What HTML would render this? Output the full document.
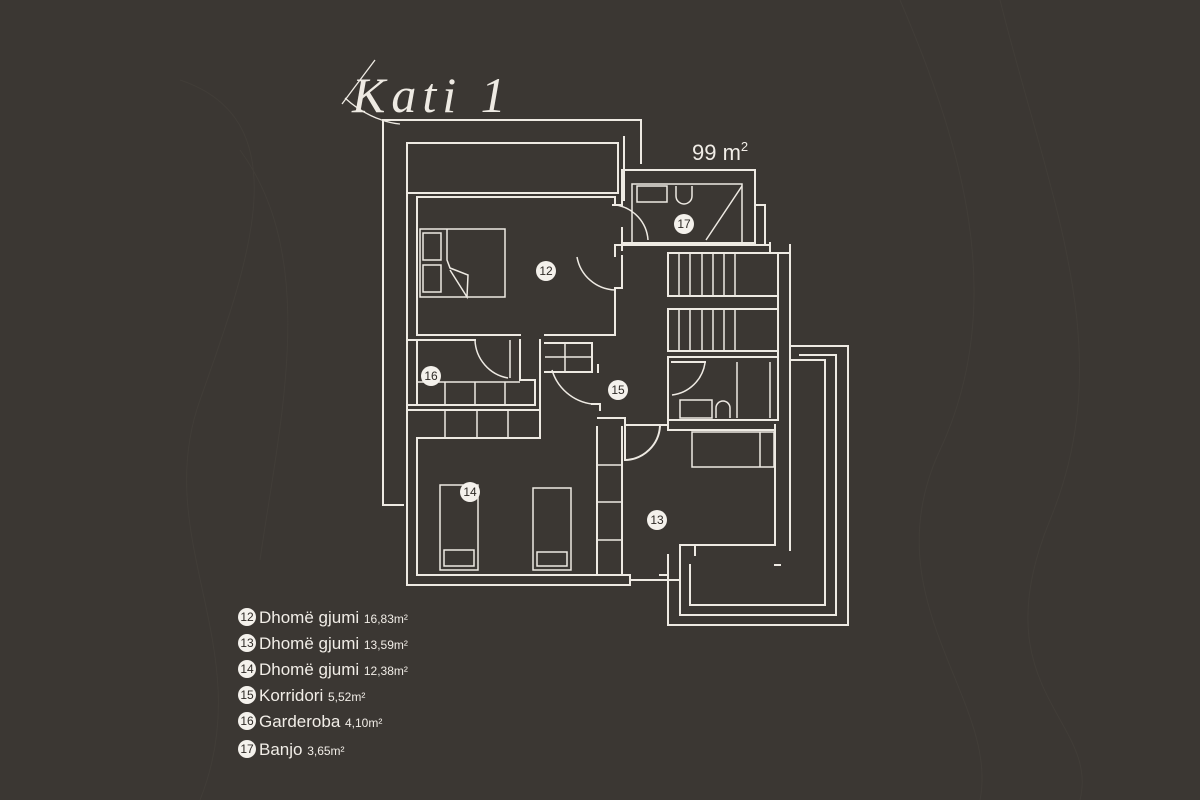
<!DOCTYPE html>
<html><head><meta charset="utf-8"><style>
html,body{margin:0;padding:0;background:#3b3733;}
body{width:1200px;height:800px;overflow:hidden;}
svg{display:block}
.w{fill:none;stroke:#eeeae3;stroke-width:2;stroke-linecap:square}
.t{fill:none;stroke:#eeeae3;stroke-width:1.5}
.c{fill:#f4f1ec}
.n{font-family:"Liberation Sans",sans-serif;font-size:12px;fill:#2e2a26;text-anchor:middle}
.L{font-family:"Liberation Sans",sans-serif;fill:#f1ede7}
</style></head><body>
<svg width="1200" height="800" viewBox="0 0 1200 800">
<g fill="none" stroke="#413d38" stroke-width="1">
<path d="M180 80 C300 120 250 260 200 400 S260 650 200 800"/>
<path d="M900 0 C960 140 1010 300 940 450 S1000 700 980 800"/>
<path d="M1000 0 C1050 200 1120 350 1050 520 S1100 720 1080 800"/>
<path d="M240 150 C320 260 280 420 260 560"/>
</g>
<!-- title -->
<path d="M342 104 L375 60 M345 98 C360 112 380 122 400 124" fill="none" stroke="#eeeae3" stroke-width="1.3"/>
<text x="352" y="112" font-family="Liberation Serif,serif" font-style="italic" font-size="50" fill="#eeeae3" style="letter-spacing:6px">Kati 1</text>
<text x="692" y="160" class="L" font-size="22">99 m<tspan font-size="13" dy="-9">2</tspan></text>
<!-- outer frame -->
<path class="w" d="M383 505 V120 H641 V163 M383 505 H403"/>
<rect class="w" x="407" y="143" width="211" height="50"/>
<path class="w" d="M624 137 V200"/>
<!-- bath 17 -->
<path class="w" d="M622 170 H755 V243 H622 V228 M622 170 V205 H613 M755 205 H765 V243 M622 243 V250"/>
<rect class="t" x="632" y="184" width="110" height="59"/>
<rect class="t" x="637" y="186" width="30" height="16"/>
<path class="t" d="M676 186 v10 a8 8 0 0 0 16 0 v-10 M742 186 L706 240"/>
<path class="t" d="M616 205 A38 38 0 0 1 648 240"/>
<!-- room 12 -->
<path class="w" d="M407 193 V410 M417 197 H615 V205 M417 197 V335 H520 M545 335 H615 V288 H622 V256 M615 256 V245 H770"/>
<rect class="t" x="420" y="229" width="85" height="68"/>
<rect class="t" x="423" y="233" width="18" height="27"/>
<rect class="t" x="423" y="265" width="18" height="27"/>
<path class="t" d="M447 229 V260 L450 268 L468 275 L467 297 L450 270"/>
<path class="t" d="M577 257 A40 40 0 0 0 615 290"/>
<!-- stairs -->
<path class="w" d="M770 243 V253 H790 M668 253 H778 M668 296 H778 M668 309 H778 M668 351 H778 M668 253 V296 M668 309 V351"/>
<path class="t" d="M679 253 V296 M690 253 V296 M702 253 V296 M713 253 V296 M724 253 V296 M735 253 V296 M679 309 V351 M690 309 V351 M702 309 V351 M713 309 V351 M724 309 V351 M735 309 V351"/>
<path class="w" d="M778 253 V420 M790 245 V550 M780 565 H775"/>
<!-- terrace -->
<path class="w" d="M790 346 H848 V625 H668 V555 M800 355 H836 V615 H680 V560 M790 360 H825 V605 H690 V565"/>
<!-- wardrobe 16 -->
<path class="w" d="M407 340 H417 V405 M417 340 H475 M520 340 V380 H535 V405 H407 M407 410 H540 V438 H417"/>
<path class="t" d="M445 382 V405 M475 382 V405 M505 382 V405 M445 410 V438 M477 410 V438 M508 410 V438 M417 382 H520 M510 340 V378"/>
<path class="t" d="M475 340 A40 40 0 0 0 508 378"/>
<!-- corridor 15 -->
<path class="w" d="M540 340 V438 M545 343 H592 M592 343 V372 H545 M598 372 V365 M550 372 H592"/>
<path class="t" d="M545 357 H592 M565 343 V372"/>
<path class="t" d="M552 370 A48 48 0 0 0 592 404"/>
<path class="w" d="M592 404 H600 V410 M598 418 H625 V432 M625 425 V460"/>
<!-- small bath -->
<path class="w" d="M668 357 H778 M668 357 V420 H778 M668 420 V425 M672 362 H705"/>
<path class="t" d="M705 363 A38 38 0 0 1 672 395 M737 362 V418 M770 362 V418"/>
<rect class="t" x="680" y="400" width="32" height="18"/>
<path class="t" d="M716 418 v-10 a7 7 0 0 1 14 0 v10"/>
<!-- room 13 -->
<path class="w" d="M625 425 H668 M668 420 V430 H775 M625 460 A36 36 0 0 0 660 426"/>
<rect class="t" x="692" y="432" width="82" height="35"/>
<path class="t" d="M760 432 V467"/>
<path class="w" d="M775 425 V545 H695 V555 M695 545 H680 V580 H668"/>
<!-- wardrobe column -->
<path class="w" d="M597 427 V575 M622 427 V575"/>
<path class="t" d="M597 465 H622 M597 502 H622 M597 540 H622"/>
<!-- room 14 -->
<path class="w" d="M417 438 V575 H630 M407 410 V585 H630 M630 575 V585 M660 575 H668 V585 M630 580 H668"/>
<rect class="t" x="440" y="485" width="38" height="85"/>
<rect class="t" x="444" y="550" width="30" height="16"/>
<rect class="t" x="533" y="488" width="38" height="82"/>
<rect class="t" x="537" y="552" width="30" height="14"/>
<!-- labels -->
<circle class="c" cx="546" cy="271" r="10"/><text class="n" x="546" y="275">12</text>
<circle class="c" cx="684" cy="224" r="10"/><text class="n" x="684" y="228">17</text>
<circle class="c" cx="431" cy="376" r="10"/><text class="n" x="431" y="380">16</text>
<circle class="c" cx="618" cy="390" r="10"/><text class="n" x="618" y="394">15</text>
<circle class="c" cx="470" cy="492" r="10"/><text class="n" x="470" y="496">14</text>
<circle class="c" cx="657" cy="520" r="10"/><text class="n" x="657" y="524">13</text>
<!-- legend -->
<g>
<circle class="c" cx="247" cy="617" r="9"/><text class="n" x="247" y="621" font-size="12">12</text>
<text class="L" x="259" y="623" font-size="17">Dhomë gjumi <tspan font-size="12">16,83m²</tspan></text>
<circle class="c" cx="247" cy="643" r="9"/><text class="n" x="247" y="647" font-size="12">13</text>
<text class="L" x="259" y="649" font-size="17">Dhomë gjumi <tspan font-size="12">13,59m²</tspan></text>
<circle class="c" cx="247" cy="669" r="9"/><text class="n" x="247" y="673" font-size="12">14</text>
<text class="L" x="259" y="675" font-size="17">Dhomë gjumi <tspan font-size="12">12,38m²</tspan></text>
<circle class="c" cx="247" cy="695" r="9"/><text class="n" x="247" y="699" font-size="12">15</text>
<text class="L" x="259" y="701" font-size="17">Korridori <tspan font-size="12">5,52m²</tspan></text>
<circle class="c" cx="247" cy="721" r="9"/><text class="n" x="247" y="725" font-size="12">16</text>
<text class="L" x="259" y="727" font-size="17">Garderoba <tspan font-size="12">4,10m²</tspan></text>
<circle class="c" cx="247" cy="749" r="9"/><text class="n" x="247" y="753" font-size="12">17</text>
<text class="L" x="259" y="755" font-size="17">Banjo <tspan font-size="12">3,65m²</tspan></text>
</g>
</svg>
</body></html>
